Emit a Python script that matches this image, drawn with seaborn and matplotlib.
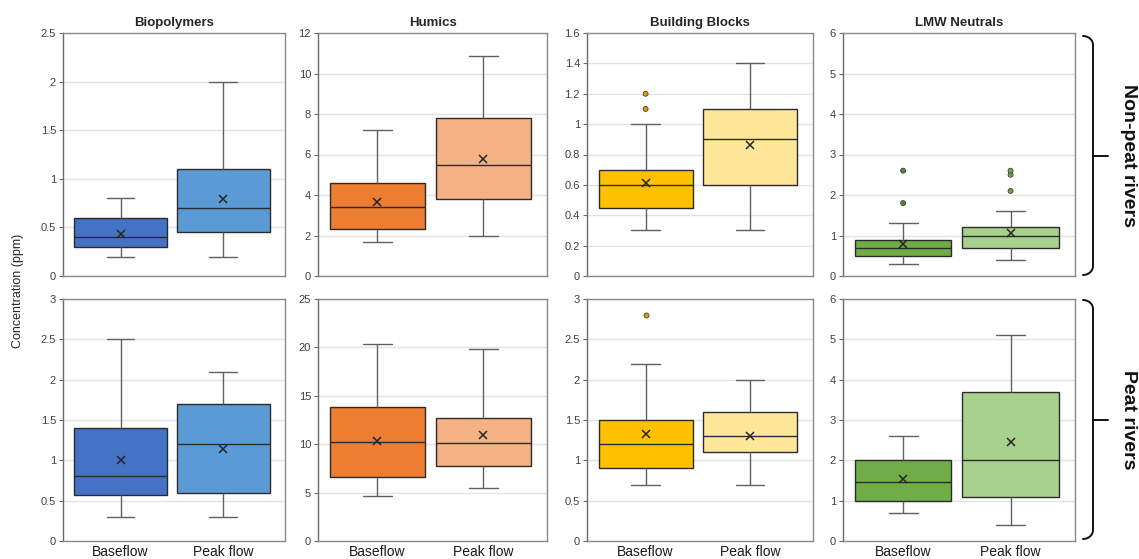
import numpy as np
import pandas as pd
import matplotlib
matplotlib.use("Agg")
import matplotlib.pyplot as plt
import seaborn as sns
from matplotlib.ticker import FuncFormatter, MultipleLocator
from matplotlib.lines import Line2D

# ---- data -------------------------------------------------------------
fractions = ["Biopolymers", "Humics", "Building Blocks", "LMW Neutrals"]
flows = ["Baseflow", "Peak flow"]
groups = ["Non-peat rivers", "Peat rivers"]

# summary statistics indexed [group][fraction] -> (Baseflow, Peak flow)
whisker_low = [
    [[0.2, 0.2], [1.7, 2.0], [0.3, 0.3], [0.3, 0.4]],
    [[0.3, 0.3], [4.7, 5.5], [0.7, 0.7], [0.7, 0.4]],
]
quartile_1 = [
    [[0.3, 0.45], [2.3, 3.8], [0.45, 0.6], [0.5, 0.7]],
    [[0.57, 0.6], [6.65, 7.7], [0.9, 1.1], [1.0, 1.1]],
]
median = [
    [[0.4, 0.7], [3.4, 5.5], [0.6, 0.9], [0.7, 1.0]],
    [[0.8, 1.2], [10.2, 10.1], [1.2, 1.3], [1.47, 2.0]],
]
quartile_3 = [
    [[0.6, 1.1], [4.6, 7.8], [0.7, 1.1], [0.9, 1.2]],
    [[1.4, 1.7], [13.8, 12.7], [1.5, 1.6], [2.0, 3.7]],
]
whisker_high = [
    [[0.8, 2.0], [7.2, 10.85], [1.0, 1.4], [1.3, 1.6]],
    [[2.5, 2.1], [20.3, 19.8], [2.2, 2.0], [2.6, 5.1]],
]
mean = [
    [[0.43, 0.79], [3.65, 5.8], [0.61, 0.86], [0.78, 1.07]],
    [[1.0, 1.14], [10.3, 10.9], [1.33, 1.3], [1.53, 2.45]],
]

# individual outlying samples
outlier_group = [0, 0, 0, 0, 0, 0, 0, 1]
outlier_fraction = ["Building Blocks", "Building Blocks", "LMW Neutrals", "LMW Neutrals",
                    "LMW Neutrals", "LMW Neutrals", "LMW Neutrals", "Building Blocks"]
outlier_flow = ["Baseflow", "Baseflow", "Baseflow", "Baseflow",
                "Peak flow", "Peak flow", "Peak flow", "Baseflow"]
outlier_value = [1.1, 1.2, 1.8, 2.6, 2.1, 2.5, 2.6, 2.8]

# axis ranges
y_max = [[2.5, 12, 1.6, 6], [3, 25, 3, 6]]
y_step = [[0.5, 2, 0.2, 1], [0.5, 5, 0.5, 1]]

# ---- styling ------------------------------------------------------------
fill_colors = {
    "Biopolymers": ["#4472C4", "#5B9BD5"],
    "Humics": ["#ED7D31", "#F4B183"],
    "Building Blocks": ["#FFC000", "#FFE699"],
    "LMW Neutrals": ["#70AD47", "#A9D18E"],
}
outlier_colors = {
    "Building Blocks": ["#E09A00", "#E09A00"],
    "LMW Neutrals": ["#4E8A2C", "#6FA64A"],
}

sns.set_style("white")
plt.rcParams["font.family"] = ["Liberation Sans", "DejaVu Sans"]

W, H = 1139, 559
fig = plt.figure(figsize=(W / 100, H / 100), dpi=100)

# pixel boxes of the panels
col_left = [63, 318, 587, 843]
col_width = [222, 229, 226, 232]
row_top = [33, 299]
row_height = [243, 242]

line_dark = "#2b2b2b"
line_gray = "#606060"
fmt = FuncFormatter(lambda v, _: f"{v:g}")

for r in range(2):
    for c, frac in enumerate(fractions):
        ax = fig.add_axes([col_left[c] / W, 1 - (row_top[r] + row_height[r]) / H,
                           col_width[c] / W, row_height[r] / H])

        # five-number summary per flow condition
        rows = []
        for k, flow in enumerate(flows):
            for v in (whisker_low[r][c][k], quartile_1[r][c][k], median[r][c][k],
                      quartile_3[r][c][k], whisker_high[r][c][k]):
                rows.append((flow, v))
        box_df = pd.DataFrame(rows, columns=["flow", "value"])

        sns.boxplot(
            data=box_df, x="flow", y="value", hue="flow", order=flows, hue_order=flows,
            palette=fill_colors[frac], saturation=1, width=0.9, whis=(0, 100),
            showfliers=False, linecolor=line_dark, linewidth=1.0, legend=False, ax=ax,
            capwidths=0.27,
            whiskerprops={"color": line_gray, "linewidth": 1.0},
            capprops={"color": line_gray, "linewidth": 1.0},
            medianprops={"color": line_dark, "linewidth": 1.0},
        )

        mean_df = pd.DataFrame({"flow": flows, "value": mean[r][c]})
        sns.pointplot(
            data=mean_df, x="flow", y="value", order=flows, color="#262626",
            markers="x", linestyles="none", errorbar=None, ax=ax,
            markersize=6, markeredgewidth=1.1, zorder=6,
        )

        sel = [i for i in range(len(outlier_value))
               if outlier_group[i] == r and outlier_fraction[i] == frac]
        if sel:
            out_df = pd.DataFrame({
                "flow": [outlier_flow[i] for i in sel],
                "value": [outlier_value[i] for i in sel],
            })
            sns.stripplot(
                data=out_df, x="flow", y="value", hue="flow", order=flows,
                hue_order=flows, palette=outlier_colors[frac], jitter=False,
                size=3.6, linewidth=0.6, edgecolor="#404040", legend=False,
                ax=ax, zorder=6,
            )

        ax.set_xlim(-0.56, 1.6)
        ax.set_ylim(0, y_max[r][c])
        ax.yaxis.set_major_locator(MultipleLocator(y_step[r][c]))
        ax.yaxis.set_major_formatter(fmt)
        ax.yaxis.grid(True, color="#e3e3e3", linewidth=1.0)
        ax.set_axisbelow(True)
        ax.set_xlabel("")
        ax.set_ylabel("")
        for side, sp in ax.spines.items():
            sp.set_visible(True)
            sp.set_color("#8a8a8a")
            sp.set_linewidth(1.0)
        ax.spines["left"].set_color("#6a6a6a")
        ax.tick_params(axis="y", left=True, length=3, width=0.8, color="#6a6a6a",
                       labelsize=8, labelcolor="#404040", pad=2)
        ax.tick_params(axis="x", length=0, labelsize=10, labelcolor="#1a1a1a", pad=3)
        if r == 0:
            ax.set_xticklabels([])
            ax.set_title(frac, fontsize=9.5, fontweight="bold", pad=5)

fig.text(18 / W, 1 - 291 / H, "Concentration (ppm)", rotation=90,
         ha="center", va="center", fontsize=9, color="#262626")


def brace(y_top, y_bot, x_end=1083, x_spine=1093, x_tip=1108, rad=9):
    y_mid = (y_top + y_bot) / 2
    t = np.linspace(-np.pi / 2, 0, 20)
    top_x = x_end + (x_spine - x_end) * np.cos(t)
    top_y = y_top + rad + rad * np.sin(t)
    t2 = np.linspace(0, np.pi / 2, 20)
    bot_x = x_end + (x_spine - x_end) * np.cos(t2)
    bot_y = y_bot - rad + rad * np.sin(t2)
    xs = np.concatenate([top_x, bot_x])
    ys = np.concatenate([top_y, bot_y])
    fig.add_artist(Line2D(xs / W, 1 - ys / H, color="#111111", linewidth=1.4))
    fig.add_artist(Line2D([x_spine / W, x_tip / W], [1 - y_mid / H, 1 - y_mid / H],
                          color="#111111", linewidth=1.4))
    return y_mid


for g, (yt, yb) in zip(groups, [(36, 275), (300, 539)]):
    ym = brace(yt, yb)
    fig.text(1128 / W, 1 - ym / H, g, rotation=-90, ha="center", va="center",
             fontsize=14, fontweight="bold", color="#111111")

fig.savefig("out.png", dpi=100)
